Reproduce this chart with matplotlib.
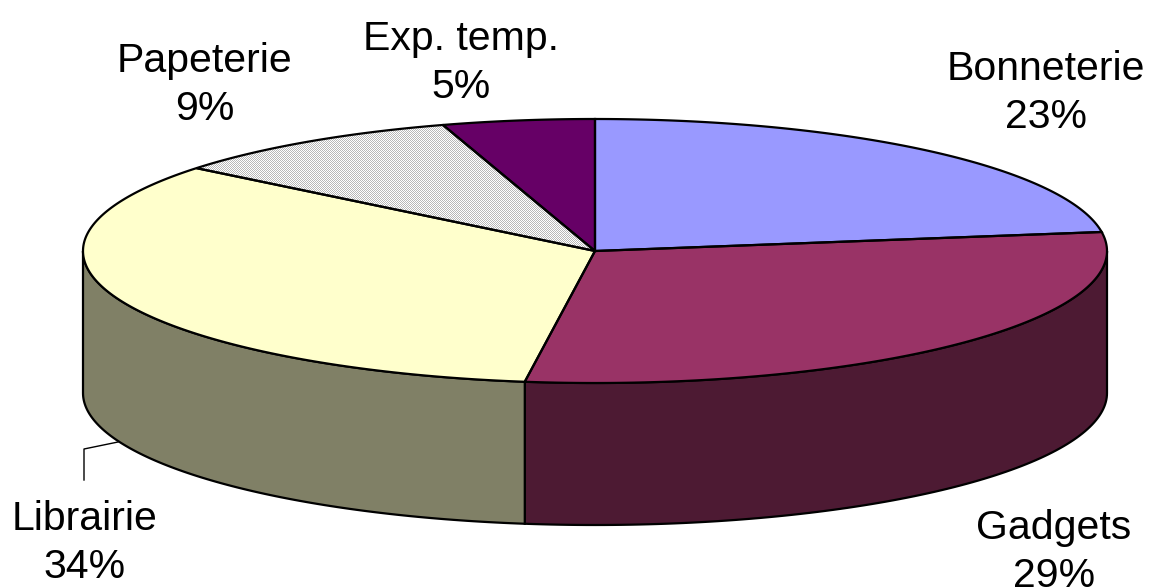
import matplotlib
matplotlib.use('Agg')
import matplotlib.pyplot as plt
import numpy as np

plt.rcParams['font.family'] = ['Liberation Sans', 'DejaVu Sans']

categories = ['Bonneterie', 'Gadgets', 'Librairie', 'Papeterie', 'Exp. temp.']
# unrounded shares read from the slice edges, labels show them rounded
shares = [22.7, 29.49, 33.61, 9.4, 4.8]
top_colors = ['#9999FF', '#993366', '#FFFFCC', '#FFFFFF', '#660066']
side_colors = ['#4D4D80', '#4D1A33', '#808066', '#808080', '#330033']
# x centre and baseline of the lower label line
label_pos = [(1046, 128), (1054, 587), (85, 578), (205, 120), (461, 98)]

# ellipse of the pie top, in pixels
cx, cy, rx, ry = 595, 251, 512, 132
depth = 142
W, H = 1149, 588


def ellipse(t):
    return cx + rx * np.sin(t), cy - ry * np.cos(t)


fig = plt.figure(figsize=(W / 100, H / 100), dpi=100)
ax = fig.add_axes([0, 0, 1, 1])
ax.set_xlim(0, W)
ax.set_ylim(H, 0)
ax.axis('off')

edges = np.cumsum([0] + shares) / sum(shares) * 2 * np.pi

# side walls, only the front half of the pie shows
for i in range(len(shares)):
    a = max(edges[i], np.pi / 2)
    b = min(edges[i + 1], 3 * np.pi / 2)
    if b <= a:
        continue
    t = np.linspace(a, b, 100)
    x, y = ellipse(t)
    ax.fill(np.r_[x, x[::-1]], np.r_[y, y[::-1] + depth],
            facecolor=side_colors[i], edgecolor='black', linewidth=1.6, zorder=1)

# top face
for i in range(len(shares)):
    t = np.linspace(edges[i], edges[i + 1], 150)
    x, y = ellipse(t)
    patch = ax.fill(np.r_[cx, x], np.r_[cy, y], facecolor=top_colors[i],
                    edgecolor='none', zorder=2)[0]
    if categories[i] == 'Papeterie':
        # one pixel checker pattern, as in the original fill
        rows, cols = np.indices((H, W))
        checker = np.where((rows + cols) % 2 == 0, 0.72, 1.0)
        im = ax.imshow(checker, cmap='gray', vmin=0, vmax=1, extent=(0, W, H, 0),
                       interpolation='nearest', aspect='auto', zorder=2.1)
        im.set_clip_path(patch)
    ax.fill(np.r_[cx, x], np.r_[cy, y], facecolor='none',
            edgecolor='black', linewidth=1.6, zorder=2.2)

# leader line for Librairie
ax.plot([118, 84, 84], [442, 449, 480], color='black', linewidth=1.0, zorder=0)

for name, share, (lx, ly) in zip(categories, shares, label_pos):
    ax.text(lx, ly, f'{name}\n{round(share)}%', ha='center', va='baseline',
            fontsize=29.5, color='black', linespacing=1.32)

ax.set_xlim(0, W)
ax.set_ylim(H, 0)
fig.savefig('out.png', dpi=100)
